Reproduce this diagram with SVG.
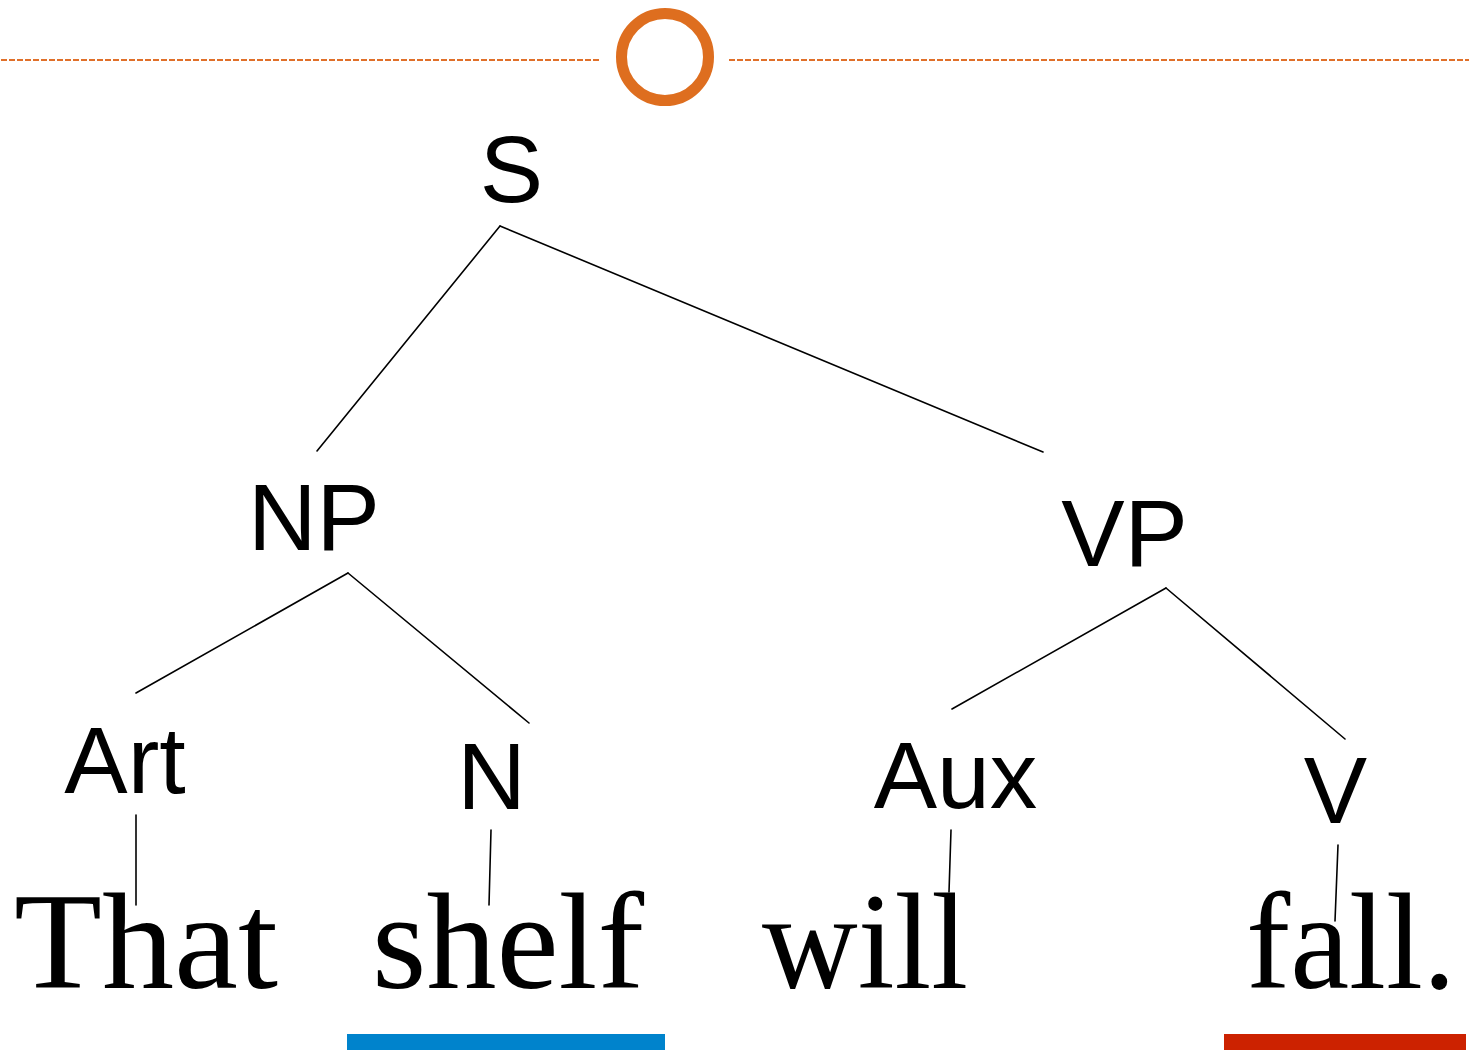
<svg xmlns="http://www.w3.org/2000/svg" width="1469" height="1050" viewBox="0 0 1469 1050">
<style>
.lab{font-family:"Liberation Sans",Arial,sans-serif;font-size:95px;fill:#000;text-anchor:middle}
.word{font-family:"Liberation Serif","Times New Roman",serif;font-size:138px;fill:#000}
.edge{stroke:#000;stroke-width:1.6;fill:none;stroke-linecap:round}
.dash{stroke:#E0702A;stroke-width:2;stroke-dasharray:6 2;fill:none}
</style>
<rect width="1469" height="1050" fill="#fff"/>
<g id="header">
<line class="dash" x1="1" y1="60" x2="599" y2="60"/>
<line class="dash" x1="729" y1="60" x2="1469" y2="60"/>
<circle cx="665" cy="57" r="43.5" fill="none" stroke="#DE6E1F" stroke-width="11"/>
</g>
<g id="connectors">
<line class="edge" x1="500" y1="226" x2="317" y2="451"/>
<line class="edge" x1="500" y1="226" x2="1043" y2="452"/>
<line class="edge" x1="348" y1="573" x2="136" y2="693"/>
<line class="edge" x1="348" y1="573" x2="529" y2="723"/>
<line class="edge" x1="1166" y1="588" x2="952" y2="709"/>
<line class="edge" x1="1166" y1="588" x2="1345" y2="739"/>
<line class="edge" x1="136" y1="815" x2="136" y2="905"/>
<line class="edge" x1="491" y1="830" x2="489" y2="905"/>
<line class="edge" x1="951" y1="830" x2="949" y2="892"/>
<line class="edge" x1="1338" y1="845" x2="1335" y2="921"/>
</g>
<g id="node-S"><text class="lab" x="511.5" y="202">S</text></g>
<g id="node-NP"><text class="lab" x="314" y="550">NP</text></g>
<g id="node-VP"><text class="lab" x="1124.5" y="566">VP</text></g>
<g id="node-Art"><text class="lab" x="125" y="793">Art</text></g>
<g id="node-N"><text class="lab" x="491.5" y="809">N</text></g>
<g id="node-Aux"><text class="lab" x="955.5" y="808">Aux</text></g>
<g id="node-V"><text class="lab" x="1335.5" y="823">V</text></g>
<g id="word-That"><text class="word" x="14" y="988" textLength="264" lengthAdjust="spacingAndGlyphs">That</text></g>
<g id="word-shelf"><text class="word" x="372" y="988" textLength="272" lengthAdjust="spacingAndGlyphs">shelf</text></g>
<g id="word-will"><text class="word" x="762" y="988" textLength="206" lengthAdjust="spacingAndGlyphs">will</text></g>
<g id="word-fall"><text class="word" x="1246" y="988" textLength="210" lengthAdjust="spacingAndGlyphs">fall.</text></g>
<g id="underlines">
<rect x="347" y="1034" width="318" height="16" fill="#0083CC"/>
<rect x="1224" y="1034" width="242" height="16" fill="#CC2200"/>
</g>
</svg>
